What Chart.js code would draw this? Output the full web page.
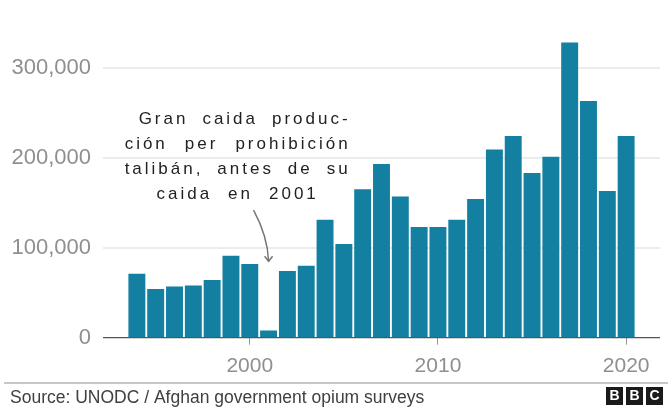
<!DOCTYPE html>
<html>
<head>
<meta charset="utf-8">
<script src="https://cdn.jsdelivr.net/npm/chart.js@4/dist/chart.umd.min.js"></script>
<style>
  html, body { margin: 0; padding: 0; background: #fff; }
  canvas { display: block; }
</style>
</head>
<body>
<canvas id="chart-bar" width="672" height="408"></canvas>
<script>
// opium poppy cultivation, hectares
var years = [1994, 1995, 1996, 1997, 1998, 1999, 2000, 2001, 2002, 2003, 2004, 2005, 2006, 2007,
  2008, 2009, 2010, 2011, 2012, 2013, 2014, 2015, 2016, 2017, 2018, 2019, 2020];
var hectares = [71000, 54000, 57000, 58000, 64000, 91000, 82000, 8000, 74000, 80000, 131000, 104000, 165000, 193000,
  157000, 123000, 123000, 131000, 154000, 209000, 224000, 183000, 201000, 328000, 263000, 163000, 224000];
var xTickYears = [2000, 2010, 2020];
var yTickValues = [0, 100000, 200000, 300000];

var noteLines = ["Gran caida produc-", "ción per prohibición", "talibán, antes de su", "caida en 2001"];
var noteYear = 2001;
var noteValue = 85000;
var sourceText = "Source: UNODC / Afghan government opium surveys";

var barColor = "#1380A1";

// width of a word drawn with extra letter spacing
function wordWidth(ctx, w, sp) {
  var t = 0;
  for (var i = 0; i < w.length; i++) t += ctx.measureText(w[i]).width;
  return t + sp * (w.length - 1);
}
function drawWord(ctx, w, x, y, sp) {
  for (var i = 0; i < w.length; i++) {
    ctx.fillText(w[i], x, y);
    x += ctx.measureText(w[i]).width + sp;
  }
}

var extrasPlugin = {
  id: "extras",
  afterDraw: function (chart) {
    var ctx = chart.ctx;
    var xs = chart.scales.x, ys = chart.scales.y;
    ctx.save();

    // annotation text, justified block, last line centred
    var sp = 3;
    var left = xs.getPixelForValue(1993.35), right = xs.getPixelForValue(2005.2);
    var base = ys.getPixelForValue(238000);
    ctx.font = "17px 'Liberation Sans', Arial, sans-serif";
    ctx.fillStyle = "#222";
    ctx.textBaseline = "alphabetic";
    ctx.textAlign = "left";
    noteLines.forEach(function (line, i) {
      var words = line.split(" ");
      var widths = words.map(function (w) { return wordWidth(ctx, w, sp); });
      var total = widths.reduce(function (a, b) { return a + b; }, 0);
      var y = base + i * 25;
      var x, gap;
      if (i === noteLines.length - 1) {
        gap = 19;
        x = (left + right) / 2 - (total + gap * (words.length - 1)) / 2;
      } else {
        var l = i === 0 ? left + 14 : left;
        gap = (right - l - total) / (words.length - 1);
        x = l;
      }
      words.forEach(function (w, k) {
        drawWord(ctx, w, x, y, sp);
        x += widths[k] + gap;
      });
    });

    // arrow down to the 2001 bar
    var tx = xs.getPixelForValue(noteYear), ty = ys.getPixelForValue(noteValue);
    ctx.strokeStyle = "#777";
    ctx.lineWidth = 1.5;
    ctx.beginPath();
    ctx.moveTo(tx - 15, ty - 51);
    ctx.quadraticCurveTo(tx - 1, ty - 25, tx, ty);
    ctx.stroke();
    ctx.beginPath();
    ctx.moveTo(tx - 4, ty - 5);
    ctx.lineTo(tx, ty);
    ctx.lineTo(tx + 4, ty - 5);
    ctx.stroke();

    // footer
    ctx.strokeStyle = "#c8c8c8";
    ctx.lineWidth = 2;
    ctx.beginPath();
    ctx.moveTo(4, 383);
    ctx.lineTo(668, 383);
    ctx.stroke();

    ctx.font = "17.5px 'Liberation Sans', Arial, sans-serif";
    ctx.fillStyle = "#404040";
    ctx.textAlign = "left";
    ctx.fillText(sourceText, 10, 403);

    ["B", "B", "C"].forEach(function (ch, i) {
      var bx = 606 + i * 20;
      ctx.fillStyle = "#1a1a1a";
      ctx.fillRect(bx, 387, 17, 18);
      ctx.fillStyle = "#fff";
      ctx.font = "bold 14px 'Liberation Sans', Arial, sans-serif";
      ctx.textAlign = "center";
      ctx.textBaseline = "middle";
      ctx.fillText(ch, bx + 8.5, 396.5);
    });
    ctx.restore();
  }
};

var ctx = document.getElementById("chart-bar").getContext("2d");
new Chart(ctx, {
  type: "bar",
  data: {
    datasets: [
      {
        label: "Hectares",
        data: years.map(function (y, i) { return { x: y, y: hectares[i] }; }),
        backgroundColor: barColor,
        borderWidth: 0,
        categoryPercentage: 1,
        barPercentage: 0.9,
      },
    ],
  },
  options: {
    responsive: false,
    animation: false,
    layout: {
      padding: { top: 40.7, right: 12, bottom: 0, left: 0 },
    },
    plugins: {
      legend: { display: false },
      tooltip: { enabled: false },
    },
    scales: {
      x: {
        type: "linear",
        min: 1992.2,
        max: 2021.8,
        offset: false,
        afterBuildTicks: function (scale) {
          scale.ticks = xTickYears.map(function (v) { return { value: v }; });
        },
        afterFit: function (scale) { scale.height = 70.3; },
        border: { display: false },
        grid: {
          offset: false,
          drawOnChartArea: false,
          drawTicks: true,
          tickLength: 7,
          tickColor: "#999",
          tickWidth: 1,
        },
        ticks: {
          padding: 9,
          color: "#8f8f8f",
          maxRotation: 0,
          font: { size: 21, family: "'Liberation Sans', Arial, sans-serif" },
          callback: function (v) { return String(v); },
        },
      },
      y: {
        min: 0,
        max: 330000,
        afterBuildTicks: function (scale) {
          scale.ticks = yTickValues.map(function (v) { return { value: v }; });
        },
        afterFit: function (scale) { scale.width = 103; },
        border: { display: false },
        grid: {
          drawTicks: false,
          lineWidth: function (c) { return c.tick && c.tick.value === 0 ? 1.2 : 2; },
          color: function (c) { return c.tick && c.tick.value === 0 ? "#555" : "#ececec"; },
        },
        ticks: {
          padding: 12,
          color: "#8f8f8f",
          font: { size: 22, family: "'Liberation Sans', Arial, sans-serif" },
          callback: function (v) { return v.toLocaleString("en-US"); },
        },
      },
    },
  },
  plugins: [extrasPlugin],
});
</script>
</body>
</html>
